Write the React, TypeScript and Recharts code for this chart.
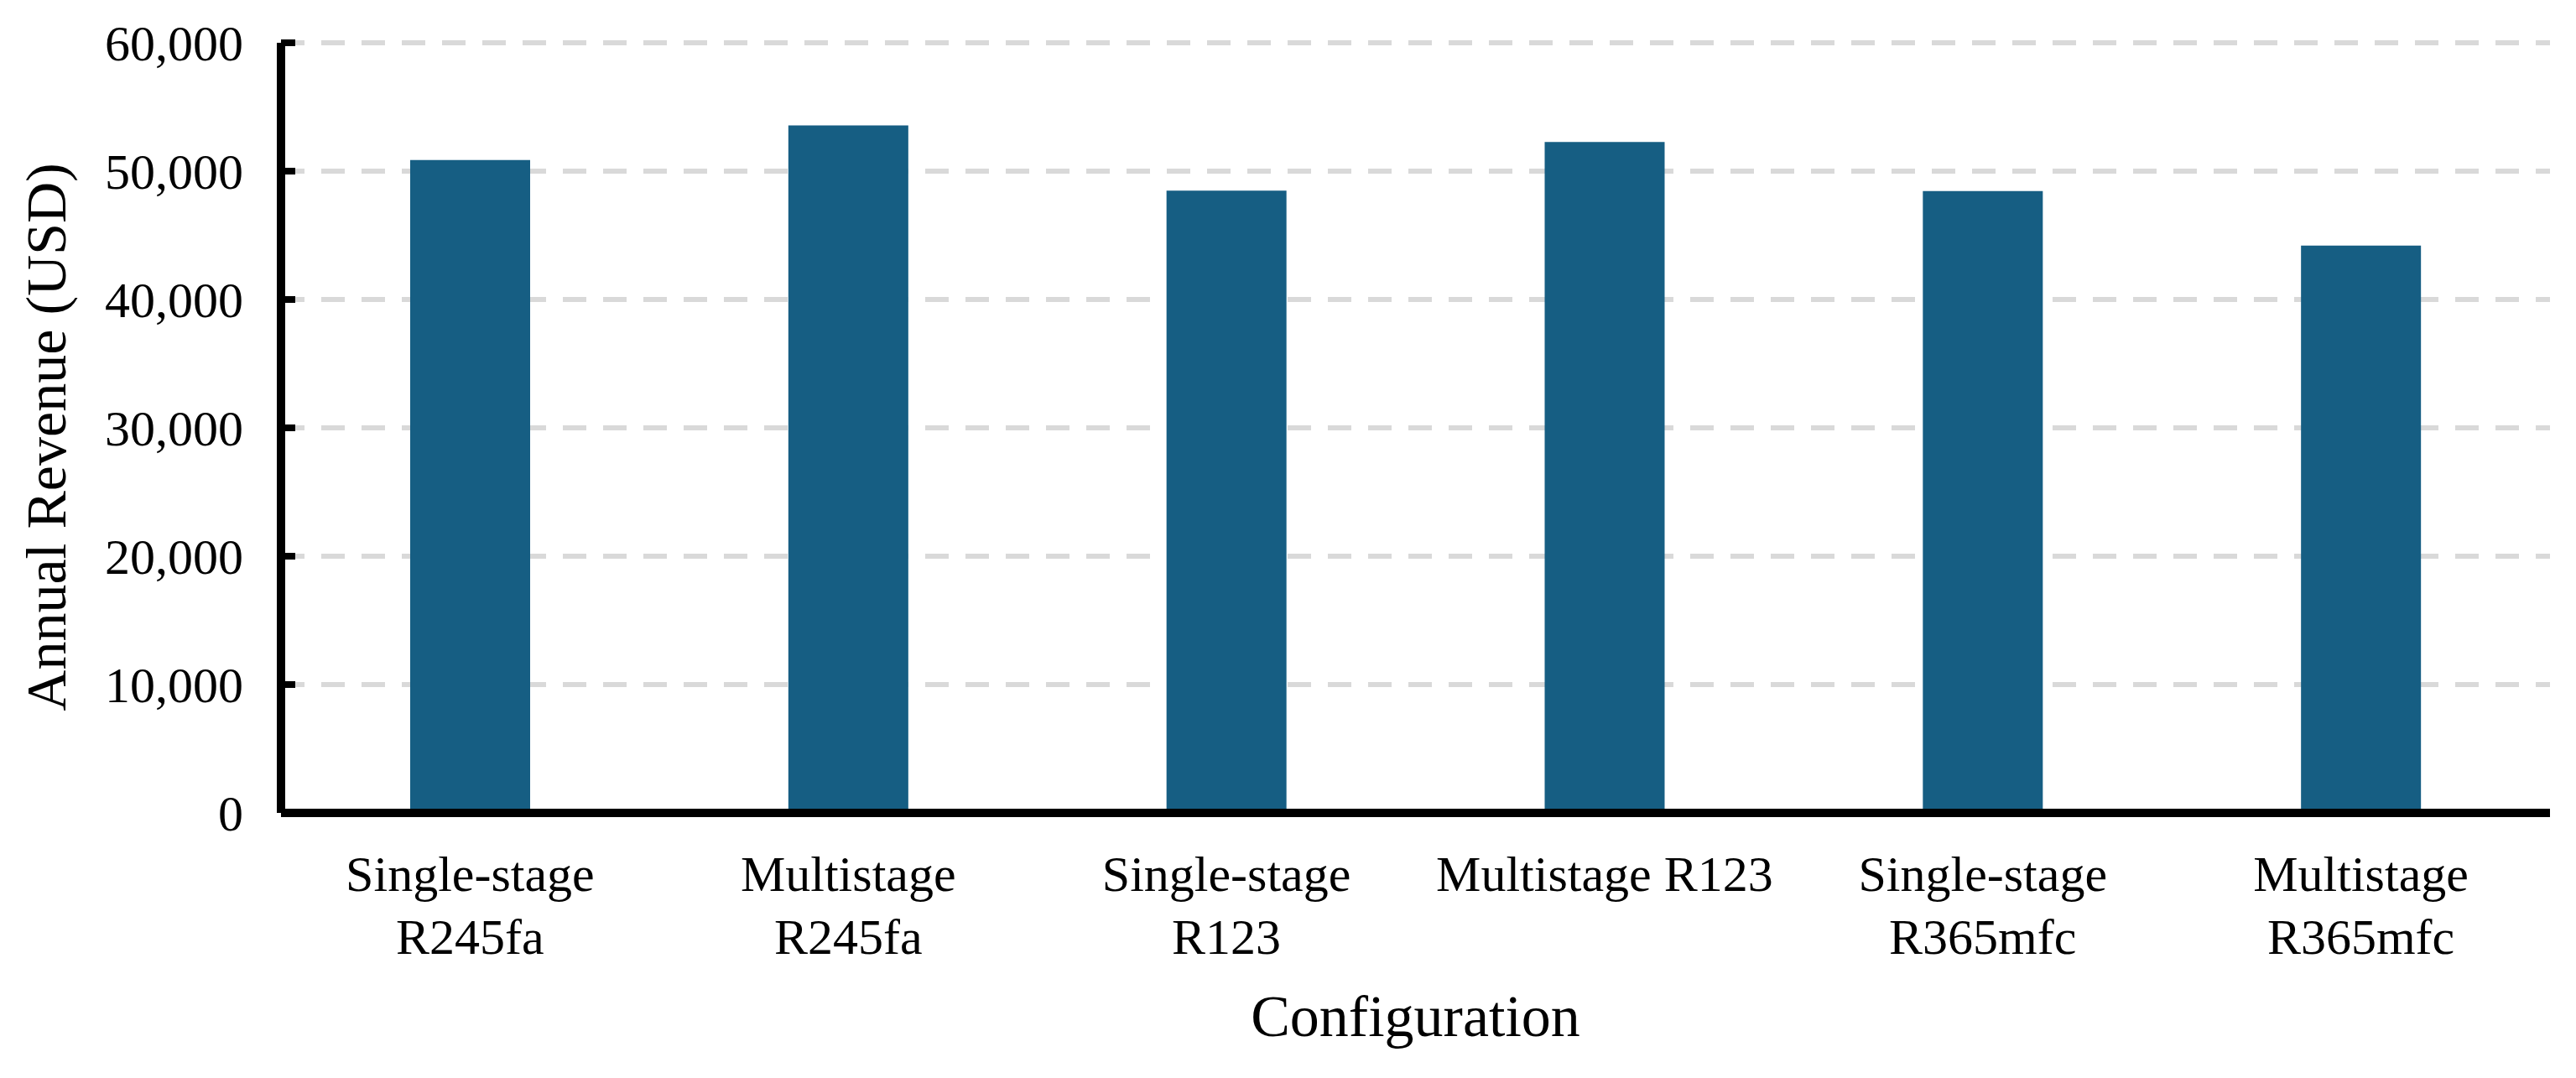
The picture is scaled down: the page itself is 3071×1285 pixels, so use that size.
import React from "react";
import { BarChart, Bar, XAxis, YAxis, CartesianGrid, Label } from "recharts";

const categories = [
  "Single-stage\nR245fa",
  "Multistage\nR245fa",
  "Single-stage\nR123",
  "Multistage R123",
  "Single-stage\nR365mfc",
  "Multistage\nR365mfc",
];
const revenue = [50870, 53570, 48480, 52270, 48450, 44200];
const yTicks = [0, 10000, 20000, 30000, 40000, 50000, 60000];

const data = categories.map((name, i) => ({ name, revenue: revenue[i] }));

const FONT = '"Liberation Serif", "Times New Roman", serif';

const XTick = (props: any) => {
  const { x, y, payload } = props;
  const lines = String(payload.value).split("\n");
  return (
    <g>
      {lines.map((ln: string, i: number) => (
        <text
          key={i}
          x={x}
          y={y + 93 + i * 75}
          textAnchor="middle"
          fontFamily={FONT}
          fontSize={60}
          fill="#000"
        >
          {ln}
        </text>
      ))}
    </g>
  );
};

const YTick = (props: any) => {
  const { x, y, payload } = props;
  return (
    <g>
      <line x1={x + 45} x2={x + 62} y1={y} y2={y} stroke="#000" strokeWidth={8} />
      <text
        x={x}
        y={y}
        dy="0.35em"
        textAnchor="end"
        fontFamily={FONT}
        fontSize={60}
        fill="#000"
      >
        {Number(payload.value).toLocaleString("en-US")}
      </text>
    </g>
  );
};

export default function App() {
  return (
    <div style={{ position: "absolute", left: 0, top: 0, background: "#fff" }}>
      <BarChart
        width={3071}
        height={1285}
        data={data}
        margin={{ top: 51, right: 31, left: 0, bottom: 0 }}
        barSize={143}
      >
        <CartesianGrid
          vertical={false}
          stroke="#D9D9D9"
          strokeWidth={6}
          strokeDasharray="28 20"
        />
        <XAxis
          dataKey="name"
          interval={0}
          height={316}
          tickLine={false}
          tickSize={0}
          tickMargin={0}
          axisLine={{ stroke: "#000", strokeWidth: 10 }}
          tick={<XTick />}
        >
          <Label
            content={(p: any) => {
              const vb = p.viewBox || {};
              const cx = vb.x + vb.width / 2;
              return (
                <text
                  x={cx}
                  y={1235}
                  textAnchor="middle"
                  fontFamily={FONT}
                  fontSize={70}
                  fill="#000"
                >
                  Configuration
                </text>
              );
            }}
          />
        </XAxis>
        <YAxis
          width={335}
          domain={[0, 60000]}
          ticks={yTicks}
          interval={0}
          tickLine={false}
          tickSize={0}
          tickMargin={45}
          axisLine={{ stroke: "#000", strokeWidth: 10 }}
          tick={<YTick />}
        >
          <Label
            content={() => (
              <text
                x={78}
                y={521}
                textAnchor="middle"
                fontFamily={FONT}
                fontSize={68}
                fill="#000"
                transform="rotate(-90, 78, 521)"
              >
                Annual Revenue (USD)
              </text>
            )}
          />
        </YAxis>
        <Bar dataKey="revenue" fill="#165E83" isAnimationActive={false} />
      </BarChart>
    </div>
  );
}
